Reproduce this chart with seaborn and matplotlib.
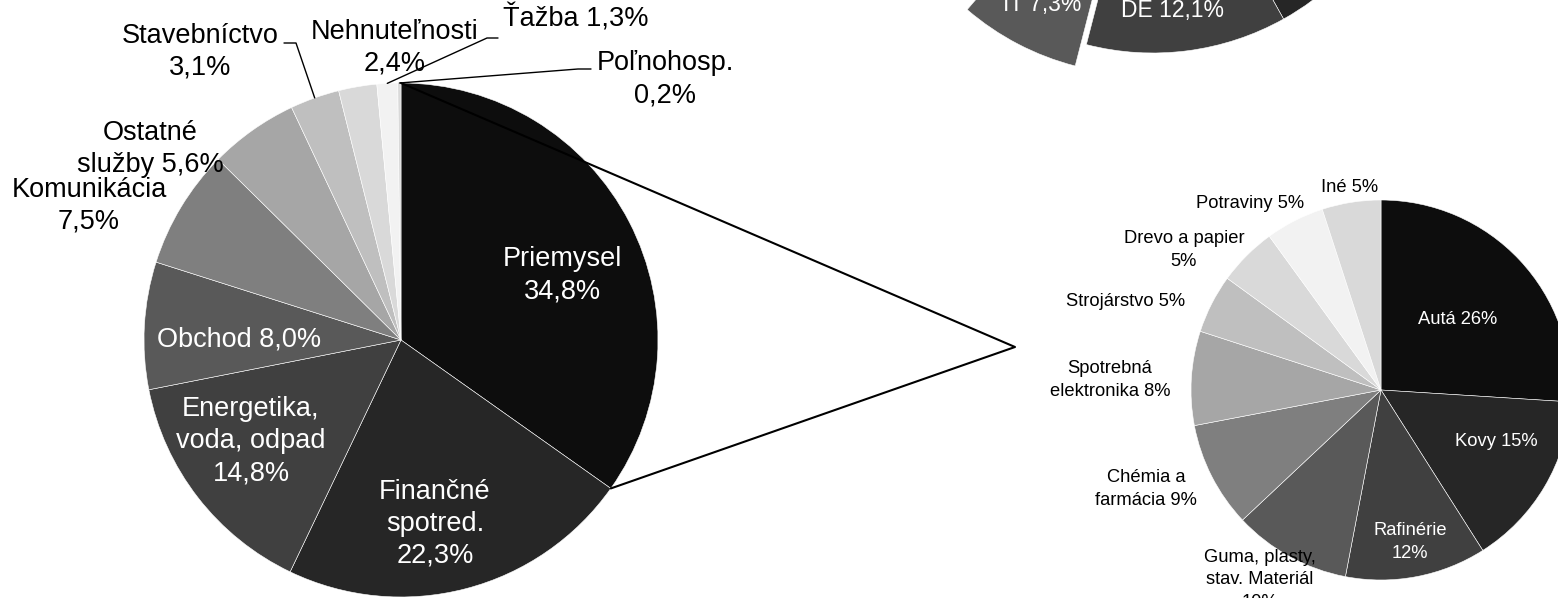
import numpy as np
import matplotlib
matplotlib.use("Agg")
import matplotlib.pyplot as plt
import seaborn as sns

W, H = 1558, 598

# hlavny kolac - odvetvia
odvetvia = ["Priemysel\n", "Finančné\nspotred.\n", "Energetika,\nvoda, odpad\n", "Obchod ",
            "Komunikácia\n", "Ostatné\nslužby ", "Stavebníctvo\n", "Nehnuteľnosti\n",
            "Ťažba ", "Poľnohosp.\n"]
podiely = [34.8, 22.3, 14.8, 8.0, 7.5, 5.6, 3.1, 2.4, 1.3, 0.2]

# rozpad priemyslu
priemysel = ["Autá ", "Kovy ", "Rafinérie\n", "Guma, plasty,\nstav. Materiál\n",
             "Chémia a\nfarmácia ", "Spotrebná\nelektronika ", "Strojárstvo ",
             "Drevo a papier\n", "Potraviny ", "Iné "]
priemysel_podiely = [26, 15, 12, 10, 9, 8, 5, 5, 5, 5]

# krajiny (kolac hore vpravo, vacsinou mimo obrazka)
krajiny = ["NL ", "AT ", "DE ", "IT ", "CZ ", "HU ", "Ostatné "]
krajiny_podiely = [25.6, 16.3, 12.1, 7.3, 6.6, 5.4, 26.7]

sive = ["#0d0d0d", "#262626", "#404040", "#595959", "#7f7f7f",
        "#a6a6a6", "#bfbfbf", "#d9d9d9", "#f2f2f2", "#d9d9d9"]

# pozicie popisov v pixeloch (x, y zhora, zarovnanie)
pos_odvetvia = [(562, 275, "center"), (435, 524, "center"), (251, 441, "center"),
                (239, 339, "center"), (89, 206, "center"), (150, 149, "center"),
                (200, 52, "center"), (395, 48, "center"), (503, 18, "left"),
                (665, 79, "center")]
farby_odvetvia = ["white"] * 4 + ["black"] * 6
pos_priemysel = [(1458, 320), (1496, 442), (1410, 542), (1260, 580), (1146, 489),
                 (1110, 380), (1126, 302), (1184, 250), (1250, 203), (1350, 187)]
farby_priemysel = ["white"] * 3 + ["black"] * 7

sns.set_theme(style="white")
plt.rcParams['font.family'] = ['Liberation Sans', 'DejaVu Sans']


def yy(y):
    return H - y


def fmt(v, dec):
    return (f"{v:.{dec}f}%").replace('.', ',')


fig = plt.figure(figsize=(W / 100, H / 100), dpi=100)
ax = fig.add_axes([0, 0, 1, 1])
wp = dict(edgecolor="white", linewidth=0.4)

# velky kolac
c1, r1 = (401, yy(340)), 257
w1, _ = ax.pie(podiely, colors=sive, startangle=90, counterclock=False,
               center=c1, radius=r1, wedgeprops=wp)
for name, v, (x, y, ha), col in zip(odvetvia, podiely, pos_odvetvia, farby_odvetvia):
    ax.text(x, yy(y), name + fmt(v, 1), ha=ha, va="center", color=col,
            fontsize=19.5, linespacing=1.3, multialignment="center")

# maly kolac
c2, r2 = (1381, yy(390)), 190
w2, _ = ax.pie(priemysel_podiely, colors=sive, startangle=90, counterclock=False,
               center=c2, radius=r2, wedgeprops=wp)
for name, v, (x, y), col in zip(priemysel, priemysel_podiely, pos_priemysel, farby_priemysel):
    ax.text(x, yy(y), name + fmt(v, 0), ha="center", va="center", color=col,
            fontsize=13.2, linespacing=1.45)

# kolac krajin - vysek IT je vysunuty
c3, r3 = (1153, yy(-215)), 268
explode = [0, 0, 0, 0.09 * r3, 0, 0, 0]
w3, _ = ax.pie(krajiny_podiely, colors=sive[:len(krajiny)], startangle=90, counterclock=False,
               center=c3, radius=r3, explode=explode, wedgeprops=wp)
pos_krajiny = {2: (1173, 10, "center"), 3: (1081, 5, "right")}
for i, (w, name, v) in enumerate(zip(w3, krajiny, krajiny_podiely)):
    if i in pos_krajiny:
        x, y, ha = pos_krajiny[i]
        y = yy(y)
    else:
        t = np.deg2rad((w.theta1 + w.theta2) / 2)
        x = w.center[0] + 0.8 * r3 * np.cos(t)
        y = w.center[1] + 0.8 * r3 * np.sin(t)
        ha = "center"
    ax.text(x, y, name + fmt(v, 1), ha=ha, va="center", color="white", fontsize=16.5)


def bod(w, ang, r):
    a = np.deg2rad(ang)
    return w.center[0] + r * np.cos(a), w.center[1] + r * np.sin(a)


# spojnice k rozpadu priemyslu
hore = bod(w1[0], w1[0].theta2, r1)
dole = bod(w1[0], w1[0].theta1, r1)
hrot = (1015, yy(347))
ax.plot([hore[0], hrot[0], dole[0]], [hore[1], hrot[1], dole[1]], color="black", lw=1.5)

# odkazove ciary malych vysekov
odkazy = {6: [(296, 43), (284, 43)], 8: [(487, 38), (498, 38)], 9: [(578, 69), (591, 69)]}
for i, body in odkazy.items():
    w = w1[i]
    sx, sy = bod(w, (w.theta1 + w.theta2) / 2, r1)
    xs = [sx] + [p[0] for p in body]
    ys = [sy] + [yy(p[1]) for p in body]
    ax.plot(xs, ys, color="black", lw=1.0)

ax.set_xlim(0, W)
ax.set_ylim(0, H)
ax.set_aspect("equal")
ax.axis("off")

fig.savefig("out.png", dpi=100, facecolor="white")
